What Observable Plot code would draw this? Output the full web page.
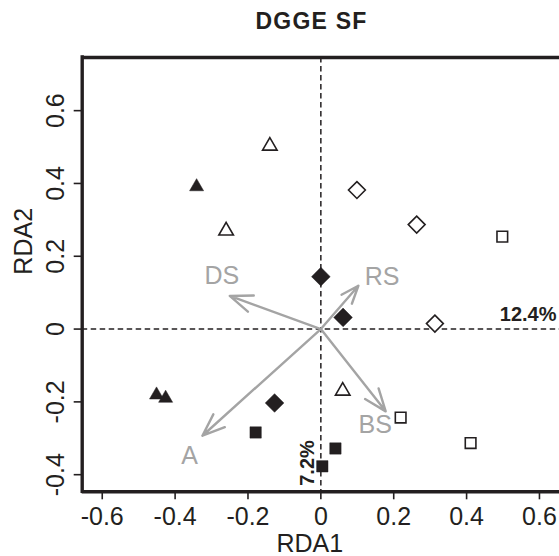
<!DOCTYPE html>
<html>
<head>
<meta charset="utf-8">
<script src="https://cdn.jsdelivr.net/npm/d3@7"></script>
<script src="https://cdn.jsdelivr.net/npm/@observablehq/plot@0.6"></script>
<style>
  html, body { margin: 0; padding: 0; background: #fff; overflow: hidden; }
  #wrap { position: relative; width: 559px; height: 556px; }
  #title {
    height: 50px; position: relative;
    font: bold 23px "Liberation Sans", Arial, Helvetica, sans-serif;
    letter-spacing: 1.2px; color: #231f20;
  }
  #title span { position: absolute; left: 311.5px; top: 10px; line-height: 23px; transform: translateX(-50%); white-space: nowrap; }
  svg { display: block; }
</style>
</head>
<body>
<div id="wrap">
  <div id="title"><span>DGGE SF</span></div>
  <div id="chart"></div>
</div>
<script>
// Sample scores on the first two RDA axes
const sampleRDA1 = [-0.341, -0.451, -0.426,  -0.140, -0.260, 0.060,
                     0.000,  0.061, -0.127,   0.099,  0.263, 0.313,
                    -0.179,  0.040,  0.004,   0.498,  0.219, 0.411];
const sampleRDA2 = [ 0.391, -0.181, -0.190,   0.503,  0.270, -0.170,
                     0.144,  0.032, -0.203,   0.382,  0.287,  0.015,
                    -0.284, -0.328, -0.377,   0.254, -0.243, -0.313];
const sampleShape = ["triangle", "triangle", "triangle", "triangle", "triangle", "triangle",
                     "diamond", "diamond", "diamond", "diamond", "diamond", "diamond",
                     "square", "square", "square", "square", "square", "square"];
const sampleFilled = [true, true, true, false, false, false,
                      true, true, true, false, false, false,
                      true, true, true, false, false, false];

// Environmental variables (biplot arrows) and their label positions
const envVars = ["DS", "RS", "A", "BS"];
const envRDA1 = [-0.250, 0.103, -0.325, 0.178];
const envRDA2 = [0.091, 0.119, -0.293, -0.226];
const envLabelRDA1 = [-0.272, 0.168, -0.360, 0.149];
const envLabelRDA2 = [0.147, 0.144, -0.350, -0.263];

// Variance explained by each axis
const axisVariance = ["12.4%", "7.2%"];

// Axis extents and ticks
const xDomain = [-0.655, 0.655];
const yDomain = [-0.447, 0.746];
const xTicks = [-0.6, -0.4, -0.2, 0, 0.2, 0.4, 0.6];
const yTicks = [-0.4, -0.2, 0, 0.2, 0.4, 0.6];
const axisTitles = ["RDA1", "RDA2"];

const ink = "#231f20";
const grey = "#a4a4a4";
const font = "'Liberation Sans', Arial, Helvetica, sans-serif";

const samples = sampleRDA1.map((x, i) => ({
  x, y: sampleRDA2[i], shape: sampleShape[i], filled: sampleFilled[i]
}));
const env = envVars.map((name, i) => ({
  name, x: envRDA1[i], y: envRDA2[i], lx: envLabelRDA1[i], ly: envLabelRDA2[i]
}));

// symbol and radius for each point style
const symbolOf = {triangle: "triangle", diamond: "diamond2", square: "square"};
const radiusOf = {
  triangle: {true: 5.2, false: 5.4},
  diamond: {true: 8.4, false: 7.6},
  square: {true: 6.4, false: 6.0}
};

const pointMarks = [];
for (const shape of ["triangle", "diamond", "square"]) {
  for (const filled of [true, false]) {
    pointMarks.push(Plot.dot(samples.filter(d => d.shape === shape && d.filled === filled), {
      x: "x", y: "y",
      symbol: () => symbolOf[shape],
      r: radiusOf[shape][filled],
      fill: filled ? ink : "white",
      stroke: ink,
      strokeWidth: filled ? 0.5 : 1.6
    }));
  }
}

const fmt = d => String(d);

const chart = Plot.plot({
  width: 559,
  height: 506,
  marginLeft: 81.7,
  marginRight: 0,
  marginTop: 7,
  marginBottom: 64.7,
  x: {domain: xDomain},
  y: {domain: yDomain},
  symbol: {type: "identity"},
  style: {fontFamily: font, fontSize: "25px", color: ink, background: "white", overflow: "visible"},
  marks: [
    // dashed zero lines
    Plot.ruleX([0], {stroke: ink, strokeWidth: 1.5, strokeDasharray: "5.5,3.5"}),
    Plot.ruleY([0], {stroke: ink, strokeWidth: 1.5, strokeDasharray: "5.5,3.5"}),
    // biplot arrows
    Plot.arrow(env, {x1: 0, y1: 0, x2: "x", y2: "y", stroke: grey, strokeWidth: 2.4, headLength: 15, headAngle: 42}),
    Plot.text(env, {x: "lx", y: "ly", text: "name", fill: grey, fontSize: 25}),
    // samples
    ...pointMarks,
    // box on left, top and bottom
    Plot.ruleX([xDomain[0]], {stroke: ink, strokeWidth: 3.4, strokeLinecap: "square"}),
    Plot.ruleY(yDomain, {stroke: ink, strokeWidth: 3.6}),
    // axes
    Plot.axisX(xTicks, {tickSize: 8, tickPadding: 7.4, tickFormat: fmt, label: null, strokeWidth: 1.6, fontSize: 25}),
    Plot.axisY(yTicks, {tickSize: 8, tickPadding: 10.4, tickRotate: -90, tickFormat: fmt, label: null, strokeWidth: 1.6, fontSize: 25}),
    Plot.text([axisTitles[0]], {frameAnchor: "bottom", lineAnchor: "bottom", dx: -11, dy: 60.4, fontSize: 25, fill: ink}),
    Plot.text([axisTitles[1]], {frameAnchor: "left", lineAnchor: "bottom", rotate: -90, dx: -50, fontSize: 25, fill: ink}),
    // variance explained
    Plot.text([axisVariance[0]], {y: 0, frameAnchor: "right", textAnchor: "end", dx: -3, dy: -14.6, fontSize: 20, fontWeight: "bold", fill: ink}),
    Plot.text([axisVariance[1]], {x: 0, frameAnchor: "bottom", textAnchor: "start", lineAnchor: "bottom", rotate: -90, dx: -7, dy: -6, fontSize: 20, fontWeight: "bold", fill: ink})
  ]
});

document.getElementById("chart").appendChild(chart);
</script>
</body>
</html>
